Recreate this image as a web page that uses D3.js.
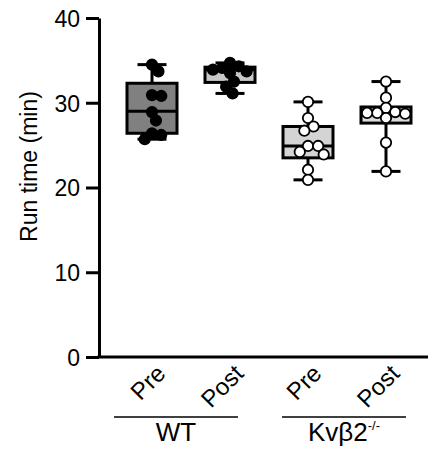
<!DOCTYPE html>
<html>
<head>
<meta charset="utf-8">
<script src="https://cdn.jsdelivr.net/npm/d3@7"></script>
<style>
  body { margin:0; background:#fff; }
  svg text { font-family:"Liberation Sans", Arial, Helvetica, sans-serif; fill:#000; }
</style>
</head>
<body>
<div id="chart"></div>
<script>
//--------------------------------- Dados
var categories = ["WT-Pre", "WT-Post", "KO-Pre", "KO-Post"];
var tickLabels = ["Pre", "Post", "Pre", "Post"];
var genotypes  = ["WT", "Kvβ2"];
var yTicks     = [0, 10, 20, 30, 40];

// valores individuais (min)
var wtPre  = [34.5, 33.7, 30.9, 30.8, 28.9, 27.9, 26.4, 26.2, 25.7];
var wtPost = [34.7, 34.3, 34.1, 33.9, 33.7, 33.5, 32.5, 31.9, 31.1];
var koPre  = [30.1, 28.2, 27.2, 26.7, 24.9, 24.9, 24.2, 23.9, 22.1, 20.9];
var koPost = [32.5, 30.6, 29.4, 28.9, 28.8, 28.8, 28.7, 28.2, 25.3, 21.9];

// box plot: min, q1, mediana, q3, max
var boxMin    = [25.7, 31.1, 20.9, 21.9];
var boxQ1     = [26.4, 32.4, 23.5, 27.6];
var boxMedian = [29.0, 33.9, 24.9, 29.0];
var boxQ3     = [32.3, 34.2, 27.2, 29.5];
var boxMax    = [34.5, 34.7, 30.1, 32.5];

//--------------------------------- Estilo
var fills     = ["#808080", "#c8c8c8", "#d4d4d4", "#dcdcdc"];
var dotFill   = ["#000", "#000", "#fff", "#fff"];
var series    = [wtPre, wtPost, koPre, koPost];

var width = 430, height = 449,
    _axisX = 99,       // posicao do eixo y
    _boxW = 50,        // largura da caixa
    _capW = 29,        // largura do bigode
    _r = 5.2,          // raio dos pontos
    _lw = 3;           // espessura das linhas

var svg = d3.select("#chart").append("svg")
    .attr("width", width).attr("height", height);

var y = d3.scaleLinear().domain([0, 40]).range([357, 18]);
var x = d3.scalePoint().domain(categories).range([152, 386]);

//--------------------------------- Eixo Y
var gY = svg.append("g")
    .attr("transform", "translate(" + _axisX + ",0)")
    .call(d3.axisLeft(y).tickValues(yTicks).tickSize(13).tickSizeOuter(0).tickPadding(6));
gY.select(".domain").attr("stroke", "#000").attr("stroke-width", _lw);
gY.selectAll(".tick line").attr("stroke", "#000").attr("stroke-width", _lw);
gY.selectAll(".tick text").style("font-size", "23px").attr("dy", "0.36em");

svg.append("text")
    .attr("transform", "translate(37," + ((y(0) + y(40)) / 2 - 21) + ") rotate(-90)")
    .attr("text-anchor", "middle")
    .style("font-size", "23px")
    .text("Run time (min)");

//--------------------------------- Eixo X (linha)
svg.append("line")
    .attr("x1", _axisX - _lw / 2).attr("x2", 428)
    .attr("y1", y(0)).attr("y2", y(0))
    .attr("stroke", "#000").attr("stroke-width", _lw);

//--------------------------------- Beeswarm
function swarm(vals, r, k) {
  var placed = [], minD = r * k;
  vals.slice().sort(d3.descending).forEach(function (v) {
    var py = y(v), cands = [0], best = 0;
    placed.forEach(function (p) {
      var dy = Math.abs(p.py - py);
      if (dy < minD) {
        var dx = Math.sqrt(minD * minD - dy * dy);
        cands.push(p.dx + dx, p.dx - dx);
      }
    });
    cands.sort(function (a, b) { return Math.abs(a) - Math.abs(b); });
    for (var i = 0; i < cands.length; i++) {
      var c = cands[i], ok = true;
      placed.forEach(function (p) {
        var dy = Math.abs(p.py - py);
        if (dy < minD && Math.abs(c - p.dx) < Math.sqrt(minD * minD - dy * dy) - 1e-6) ok = false;
      });
      if (ok) { best = c; break; }
    }
    placed.push({ v: v, py: py, dx: best });
  });
  return placed;
}

//--------------------------------- Caixas
categories.forEach(function (cat, i) {
  var cx = x(cat), g = svg.append("g");

  // bigodes
  g.append("line").attr("x1", cx).attr("x2", cx)
      .attr("y1", y(boxQ3[i])).attr("y2", y(boxMax[i]))
      .attr("stroke", "#000").attr("stroke-width", _lw);
  g.append("line").attr("x1", cx).attr("x2", cx)
      .attr("y1", y(boxQ1[i])).attr("y2", y(boxMin[i]))
      .attr("stroke", "#000").attr("stroke-width", _lw);
  [boxMin[i], boxMax[i]].forEach(function (v) {
    g.append("line").attr("x1", cx - _capW / 2).attr("x2", cx + _capW / 2)
        .attr("y1", y(v)).attr("y2", y(v))
        .attr("stroke", "#000").attr("stroke-width", _lw);
  });

  // caixa
  g.append("rect")
      .attr("x", cx - _boxW / 2).attr("width", _boxW)
      .attr("y", y(boxQ3[i])).attr("height", y(boxQ1[i]) - y(boxQ3[i]))
      .attr("fill", fills[i]).attr("stroke", "#000").attr("stroke-width", _lw);
  g.append("line")
      .attr("x1", cx - _boxW / 2).attr("x2", cx + _boxW / 2)
      .attr("y1", y(boxMedian[i])).attr("y2", y(boxMedian[i]))
      .attr("stroke", "#000").attr("stroke-width", _lw);

  // pontos
  g.selectAll("circle").data(swarm(series[i], _r, i < 2 ? 1.8 : 1.95)).enter().append("circle")
      .attr("cx", function (d) { return cx + d.dx; })
      .attr("cy", function (d) { return d.py; })
      .attr("r", _r)
      .attr("fill", dotFill[i])
      .attr("stroke", "#000").attr("stroke-width", 1.8);

  // rotulo Pre / Post
  svg.append("text")
      .attr("transform", "translate(" + (cx + 15) + ",375) rotate(-45)")
      .attr("text-anchor", "end")
      .style("font-size", "24px")
      .text(tickLabels[i]);
});

//--------------------------------- Rotulos de genotipo
var _shift = [-15, -3];
genotypes.forEach(function (gname, k) {
  var mid = (x(categories[2 * k]) + x(categories[2 * k + 1])) / 2 + _shift[k];
  svg.append("line")
      .attr("x1", mid - 62).attr("x2", mid + 62)
      .attr("y1", 417).attr("y2", 417)
      .attr("stroke", "#000").attr("stroke-width", 1.5);
  var t = svg.append("text")
      .attr("x", mid).attr("y", 441)
      .attr("text-anchor", "middle")
      .style("font-size", "26px")
      .text(gname);
  if (k === 1) {
    t.append("tspan").attr("dy", -11).style("font-size", "13px").text("-/-");
  }
});
</script>
</body>
</html>
